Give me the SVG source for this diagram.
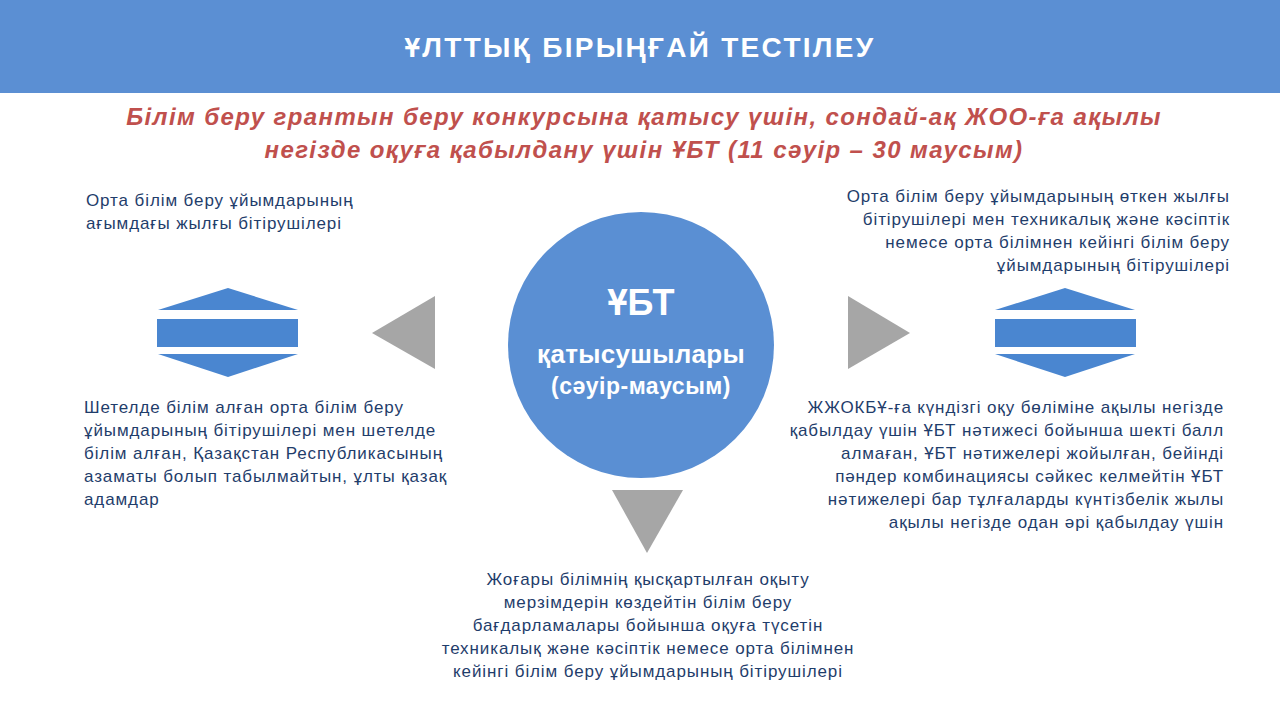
<svg xmlns="http://www.w3.org/2000/svg" width="1280" height="720" viewBox="0 0 1280 720">
<style>
.b{fill:#4a86d0}
.g{fill:#a6a6a6}
.t{font-family:"Liberation Sans",Arial,sans-serif;font-size:17px;letter-spacing:0.9px;fill:#1f3d6b}
.s{font-family:"Liberation Sans",Arial,sans-serif;font-size:24px;letter-spacing:1.4px;font-weight:bold;font-style:italic;fill:#c0504d}
</style>
<rect width="1280" height="720" fill="#fff"/>
<rect x="0" y="0" width="1280" height="93" fill="#5b8fd3"/>
<text x="640" y="57" text-anchor="middle" font-family="Liberation Sans,Arial,sans-serif" font-size="28" letter-spacing="2.3" font-weight="bold" fill="#fff">ҰЛТТЫҚ БІРЫҢҒАЙ ТЕСТІЛЕУ</text>
<text class="s" x="644" y="125" text-anchor="middle">Білім беру грантын беру конкурсына қатысу үшін, сондай-ақ  ЖОО-ға ақылы</text>
<text class="s" x="644" y="158" text-anchor="middle">негізде оқуға қабылдану үшін  ҰБТ (11 сәуір – 30 маусым)</text>
<g id="center">
<circle cx="641" cy="345" r="133" fill="#5a8fd3"/>
<text x="641" y="315" text-anchor="middle" font-family="Liberation Sans,Arial,sans-serif" font-size="36" font-weight="bold" fill="#fff">ҰБТ</text>
<text x="641" y="363" text-anchor="middle" font-family="Liberation Sans,Arial,sans-serif" font-size="26" letter-spacing="0.3" font-weight="bold" fill="#fff">қатысушылары</text>
<text x="641" y="394" text-anchor="middle" font-family="Liberation Sans,Arial,sans-serif" font-size="23" letter-spacing="0.5" font-weight="bold" fill="#fff">(сәуір-маусым)</text>
</g>
<g id="connectors">
<polygon class="g" points="372,333 435,296 435,369"/>
<polygon class="g" points="848,296 848,369 910,333"/>
<polygon class="g" points="612,490 683,490 647,553"/>
</g>
<g id="leftIcon">
<polygon class="b" points="158,310 298,310 228,288"/>
<rect class="b" x="157" y="319" width="141" height="28"/>
<polygon class="b" points="158,354 298,354 228,377"/>
</g>
<g id="rightIcon">
<polygon class="b" points="995,310 1135,310 1065,288"/>
<rect class="b" x="995" y="319" width="141" height="28"/>
<polygon class="b" points="995,354 1135,354 1065,377"/>
</g>
<g id="topLeft" class="t">
<text x="86" y="206">Орта білім беру ұйымдарының</text>
<text x="86" y="229">ағымдағы жылғы бітірушілері</text>
</g>
<g id="topRight" class="t" text-anchor="end">
<text x="1230" y="202">Орта білім беру ұйымдарының өткен жылғы</text>
<text x="1230" y="225">бітірушілері мен техникалық және кәсіптік</text>
<text x="1230" y="248">немесе орта білімнен кейінгі білім беру</text>
<text x="1230" y="271">ұйымдарының бітірушілері</text>
</g>
<g id="bottomLeft" class="t">
<text x="84" y="413">Шетелде білім алған орта білім беру</text>
<text x="84" y="436">ұйымдарының бітірушілері мен шетелде</text>
<text x="84" y="459">білім алған, Қазақстан Республикасының</text>
<text x="84" y="482">азаматы болып табылмайтын, ұлты қазақ</text>
<text x="84" y="505">адамдар</text>
</g>
<g id="bottomRight" class="t" text-anchor="end">
<text x="1224" y="413">ЖЖОКБҰ-ға күндізгі оқу бөліміне ақылы негізде</text>
<text x="1224" y="436">қабылдау үшін ҰБТ нәтижесі бойынша шекті балл</text>
<text x="1224" y="459">алмаған, ҰБТ нәтижелері жойылған, бейінді</text>
<text x="1224" y="482">пәндер комбинациясы сәйкес келмейтін ҰБТ</text>
<text x="1224" y="505">нәтижелері бар тұлғаларды күнтізбелік жылы</text>
<text x="1224" y="528">ақылы негізде одан әрі қабылдау үшін</text>
</g>
<g id="bottom" class="t" text-anchor="middle">
<text x="648" y="585">Жоғары білімнің қысқартылған оқыту</text>
<text x="648" y="608">мерзімдерін көздейтін білім беру</text>
<text x="648" y="631">бағдарламалары бойынша оқуға түсетін</text>
<text x="648" y="654">техникалық және кәсіптік немесе орта білімнен</text>
<text x="648" y="677">кейінгі білім беру ұйымдарының бітірушілері</text>
</g>
</svg>
